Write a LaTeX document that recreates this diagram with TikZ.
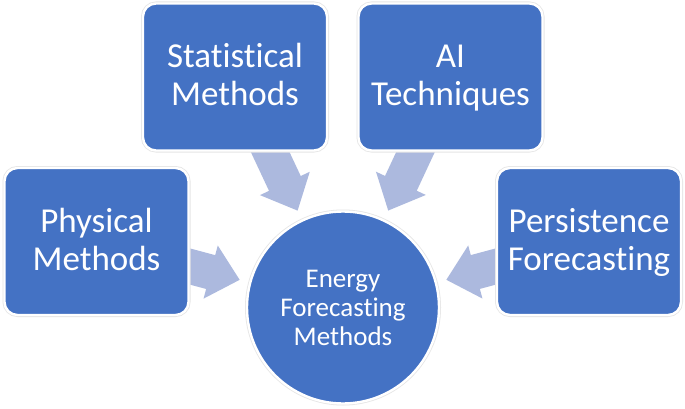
\documentclass[tikz,border=0pt]{standalone}
\usepackage{fontspec}
\setmainfont{Carlito}[Ligatures=NoCommon]
\usetikzlibrary{calc}
\pgfdeclarelayer{bg}
\pgfsetlayers{bg,main}
\definecolor{boxblue}{RGB}{68,114,196}
\definecolor{arrowc}{RGB}{172,185,222}
\newcommand\bxs{\rule[-9.5pt]{0pt}{38pt}}
\newcommand\cxs{\rule[-5.7pt]{0pt}{29pt}}
% block arrow from node #1 to node #2, starting #3 from #1, tip #4 from #2, id #5
\newcommand\convarrow[5]{%
  \coordinate (s#5) at ($(#1.center)!#3!(#2.center)$);
  \coordinate (t#5) at ($(#2.center)!#4!(#1.center)$);
  \coordinate (b#5) at ($(t#5)!30pt!(s#5)$);
  \begin{pgfonlayer}{bg}
  \fill[arrowc] ($(s#5)!17.5pt!90:(t#5)$) -- ($(b#5)!17.5pt!90:(t#5)$)
     -- ($(b#5)!27.5pt!90:(t#5)$) -- (t#5) -- ($(b#5)!27.5pt!-90:(t#5)$)
     -- ($(b#5)!17.5pt!-90:(t#5)$) -- ($(s#5)!17.5pt!-90:(t#5)$) -- cycle;
  \end{pgfonlayer}}
\tikzset{
  outl/.style={preaction={draw=black!10,line width=4pt}, fill=boxblue, draw=white, line width=2.4pt},
  methbox/.style={outl, rounded corners=13pt, minimum width=184pt, minimum height=147pt,
    inner sep=0pt, align=center, text=white, font=\fontsize{35}{38}\selectfont},
  hubcirc/.style={outl, circle, minimum size=192pt, inner sep=0pt, align=center,
    text=white, font=\fontsize{27}{29}\selectfont},
}
\begin{document}
\begin{tikzpicture}[x=1pt,y=-1pt]
\begin{pgfonlayer}{bg}
\useasboundingbox[fill=white] (0,0) rectangle (685,409);
\end{pgfonlayer}
\node[hubcirc] (circ) at (343,307.5) {\cxs Energy\\\cxs Forecasting\\\cxs Methods};
\node[methbox] (phys) at (96.5,241.5) {\bxs Physical\\\bxs Methods};
\node[methbox] (stat) at (235,77) {\bxs Statistical\\\bxs Methods};
\node[methbox] (ai) at (450.5,77) {\bxs AI\\\bxs Techniques};
\node[methbox] (pers) at (589,241.5) {\bxs Persistence\\\bxs Forecasting};
\convarrow{phys}{circ}{85pt}{107pt}{1}
\convarrow{stat}{circ}{70pt}{107pt}{2}
\convarrow{ai}{circ}{70pt}{107pt}{3}
\convarrow{pers}{circ}{85pt}{107pt}{4}
\end{tikzpicture}
\end{document}
